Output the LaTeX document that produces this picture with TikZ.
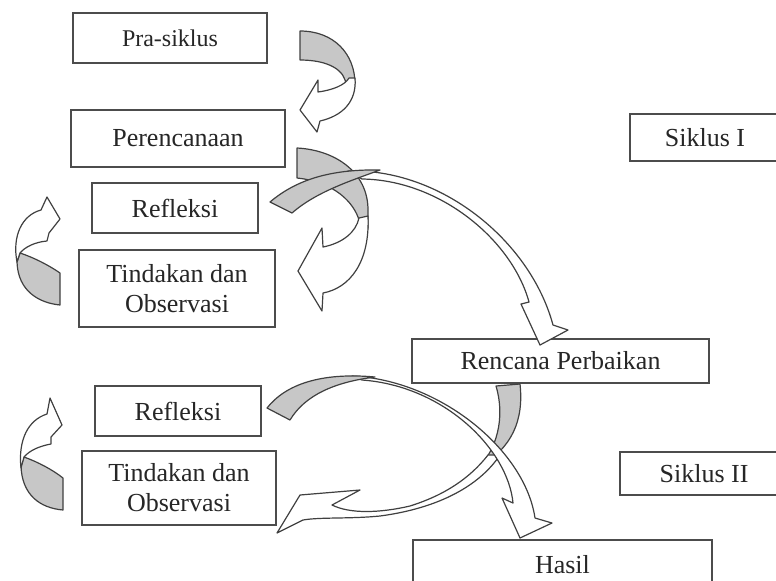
\documentclass[tikz,border=0pt]{standalone}
\usepackage{fontspec}
\setmainfont{Liberation Serif}
\usepackage{tikz}

\begin{document}
\begin{tikzpicture}[x=0.5pt,y=-0.5pt,
    box/.style={draw=black!70,line width=0.9pt,fill=white,inner sep=0pt,align=center,
      text=black!85,font=\fontsize{13}{15}\selectfont},
    back/.style={draw=black!75,line width=0.6pt,fill=black!22,line join=round},
    front/.style={draw=black!75,line width=0.6pt,fill=white,line join=round}]
      \useasboundingbox (0,0) rectangle (776,580);
      % siklus I
      \node[box,minimum width=97pt,minimum height=25pt,font=\fontsize{12}{14}\selectfont] (prasiklus) at (170,38) {Pra-siklus};
      \node[box,minimum width=107pt,minimum height=28.5pt] (perencanaan) at (178,138.5) {Perencanaan};
      \node[box,minimum width=83pt,minimum height=25pt] (refleksiA) at (175,208) {Refleksi};
      \node[box,minimum width=98pt,minimum height=38.5pt] (tindakanA) at (177,288.5) {Tindakan dan\\Observasi};
      \node[box,minimum width=75pt,minimum height=23.5pt] (siklusA) at (705,137.5) {Siklus I};
      % siklus II
      \node[box,minimum width=148.5pt,minimum height=22pt] (rencana) at (560.5,361) {Rencana Perbaikan};
      \node[box,minimum width=83pt,minimum height=25pt] (refleksiB) at (178,411) {Refleksi};
      \node[box,minimum width=97pt,minimum height=37pt] (tindakanB) at (179,488) {Tindakan dan\\Observasi};
      \node[box,minimum width=84pt,minimum height=21.5pt] (siklusB) at (704,473.5) {Siklus II};
      \node[box,minimum width=149.5pt,minimum height=25pt] (hasil) at (562.5,565) {Hasil};
      % curved block arrows, back part grey, front part white
      \draw[back] (300,31) .. controls (334,31) and (355,54) .. (355,84) -- (346,86)
        .. controls (346,70) and (328,60) .. (300,60) -- cycle;
      \draw[front] (355,78) .. controls (357,102) and (342,116) .. (320,121) -- (317,132) -- (300,110)
        -- (318,80) -- (318,92) .. controls (333,90) and (345,85) .. (349,78) -- cycle;
      \draw[back] (60,273) -- (60,305) .. controls (40,303) and (18,292) .. (17,262) -- (20,253)
        .. controls (35,258) and (50,266) .. (60,273) -- cycle;
      \draw[front] (17,262) .. controls (12,236) and (22,215) .. (41,210) -- (47,197) -- (60,219)
        -- (49,233) -- (47,241) .. controls (35,242) and (25,247) .. (20,253) -- cycle;
      \draw[back] (297,148) .. controls (335,150) and (368,172) .. (368,210) -- (368,228) -- (359,220)
        .. controls (354,203) and (335,182) .. (297,178) -- cycle;
      \draw[front] (368,216) .. controls (370,262) and (350,288) .. (323,293) -- (322,311) -- (298,271)
        -- (322,228) -- (323,247) .. controls (343,243) and (356,232) .. (359,218) -- cycle;
      \draw[front] (348,171) .. controls (440,168) and (530,240) .. (553,325) -- (568,330) -- (540,345)
        -- (521,304) -- (529,302) .. controls (512,240) and (440,180) .. (362,179) -- cycle;
      \draw[back] (270,202) .. controls (296,180) and (330,169) .. (380,170)
        .. controls (350,181) and (316,192) .. (292,213) -- cycle;
      \draw[back] (63,478) -- (63,510) .. controls (40,508) and (22,495) .. (21,466) -- (24,457)
        .. controls (38,462) and (53,470) .. (63,478) -- cycle;
      \draw[front] (21,468) .. controls (18,440) and (28,420) .. (47,414) -- (50,398) -- (62,425)
        -- (51,437) -- (51,444) .. controls (40,446) and (30,450) .. (24,457) -- cycle;
      \draw[back] (496,386) -- (520,384) .. controls (524,420) and (512,448) .. (480,466)
        .. controls (495,450) and (506,420) .. (496,386) -- cycle;
      \draw[front] (500,455) .. controls (480,485) and (440,508) .. (380,516)
        .. controls (350,519) and (320,517) .. (303,520) -- (277,533) -- (300,495) -- (360,490)
        -- (332,505) .. controls (350,514) and (380,513) .. (410,506)
        .. controls (445,495) and (470,478) .. (488,455) -- cycle;
      \draw[front] (352,376) .. controls (440,380) and (525,450) .. (535,518) -- (552,523) -- (520,538)
        -- (502,498) -- (513,503) .. controls (508,450) and (445,386) .. (362,380) -- cycle;
      \draw[back] (267,408) .. controls (285,385) and (320,372) .. (375,377)
        .. controls (335,382) and (305,395) .. (290,420) -- cycle;
\end{tikzpicture}
\end{document}
